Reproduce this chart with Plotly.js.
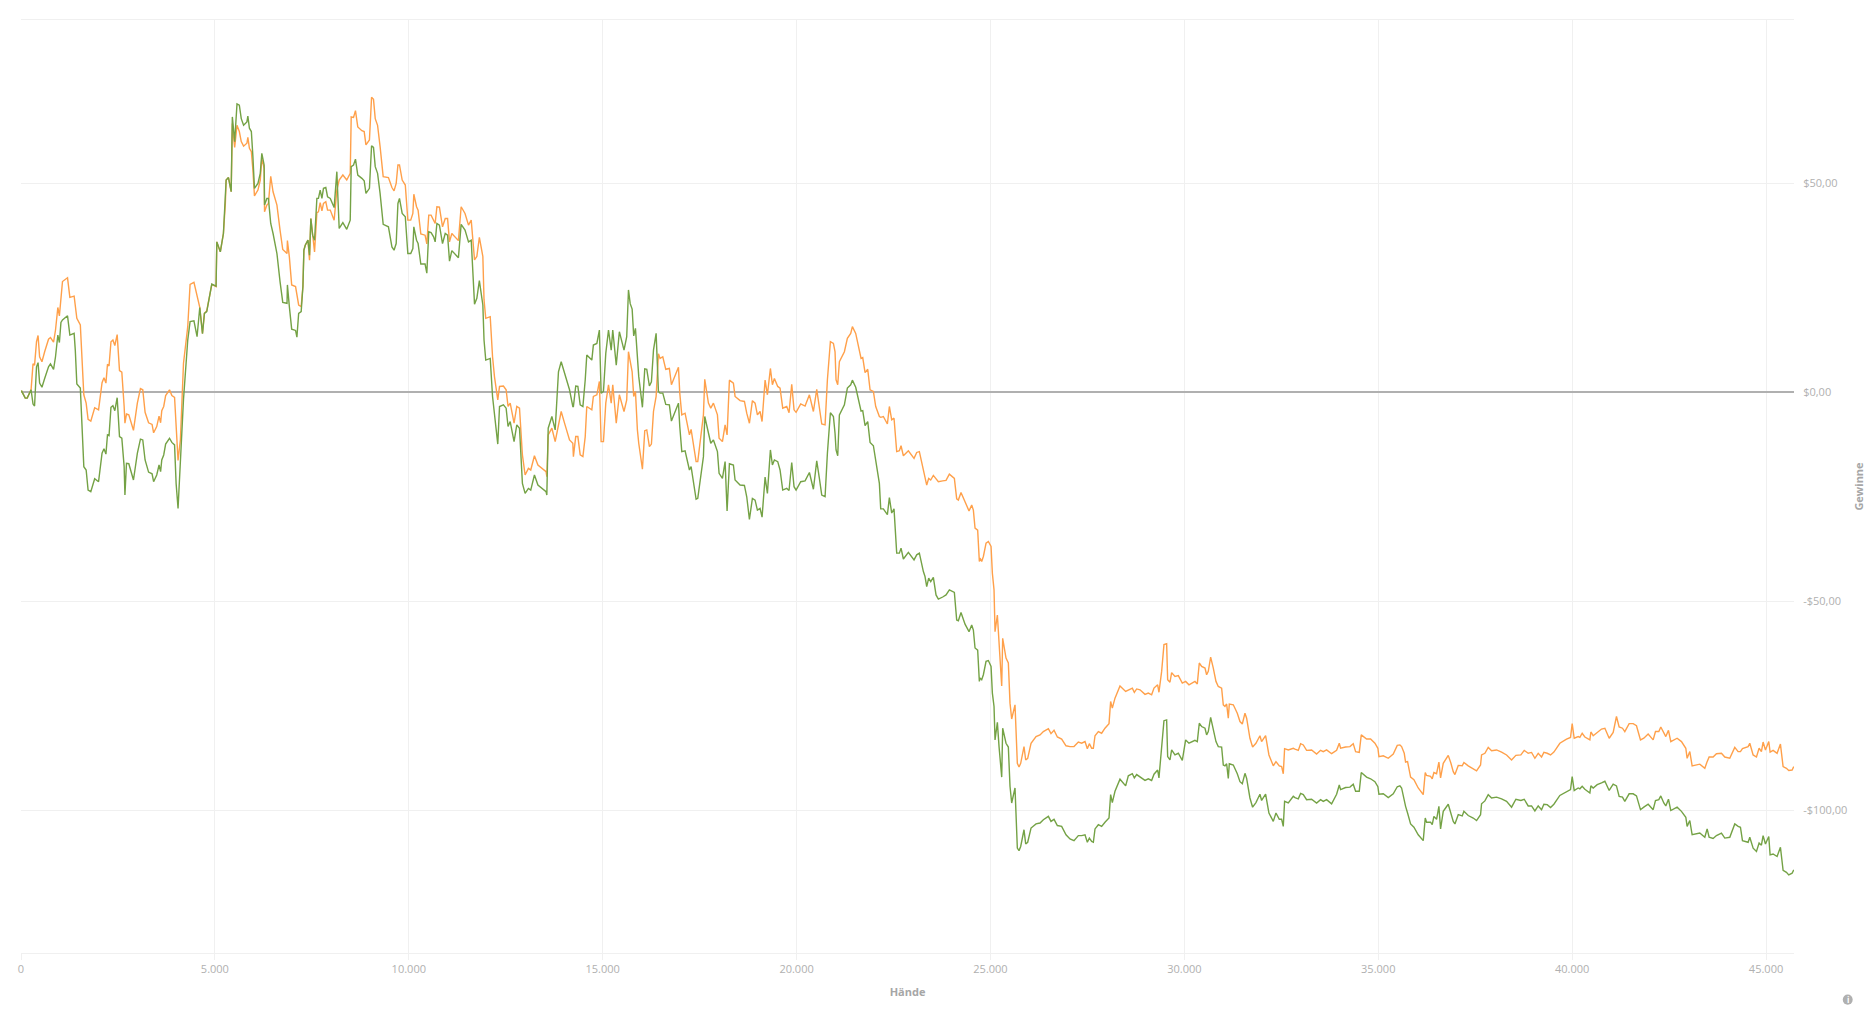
<!DOCTYPE html>
<html><head><meta charset="utf-8">
<script src="https://cdn.plot.ly/plotly-3.0.1.min.js"></script>
<style>html,body{margin:0;padding:0;background:#fff;overflow:hidden}#c{width:1874px;height:1010px}</style>
</head><body><div id="c"></div>
<script>
const hands = [
10,110,160,260,310,350,400,440,480,540,610,710,760,840,890,950,990,1030,1070,1200,1260,1370,1400,1440,1530,1570,1620,1680,1730,1800,1900,2000,2090,2140,2190,2230,2270,2320,2370,2420,2480,2540,2600,2660,2680,2720,2780,2900,3000,3080,3140,3200,3290,3380,3420,3500,3560,3600,3630,3680,3730,3830,3890,3960,4000,4050,4110,4190,4300,4360,4460,4540,4610,4680,4730,4790,4920,5030,
5050,5140,5220,5270,5290,5350,5420,5450,5510,5570,5630,5680,5740,5825,5850,5890,5940,5980,6020,6110,6170,6210,6270,6280,6340,6380,6440,6500,6600,6680,6750,6860,6870,6920,6980,7080,7115,7160,7225,7270,7295,7330,7400,7440,7475,7520,7570,7630,7670,7715,7760,7800,7860,7905,7975,8075,8145,8205,8300,8400,8490,8515,8575,8625,8685,8790,8850,8895,8985,9040,9090,9135,9195,9260,9340,9475,9565,9620,9675,9720,9760,9830,9910,9975,10050,10105,10130,10200,10240,10310,10420,10465,10515,10575,
10640,10680,10725,10790,10870,10940,11000,11050,11110,11280,11350,11450,11540,11610,11695,11755,11820,11910,11940,11985,12100,12160,12210,12295,12340,12440,12510,12560,12615,12715,12785,12855,12930,13000,13085,13145,13240,13330,13540,13560,13595,13690,13775,13860,13930,14030,14145,14230,14245,14305,14360,14420,14490,14550,14590,14720,14760,14850,14915,14960,15020,15080,15150,15220,15260,15350,15430,15550,15620,15665,
15710,15760,15800,15845,15895,15930,16025,16085,16137,16205,16257,16310,16378,16438,16480,16550,16627,16720,16773,16954,16988,17040,17125,17237,17280,17409,17452,17512,17598,17632,17727,17787,17856,17959,18002,18088,18157,18208,18268,18371,18414,18543,18655,18715,18784,18861,18930,18990,19059,19110,19188,19248,19325,19377,19428,19514,19574,19643,19746,19806,19875,19935,19987,20107,20219,20331,20434,20520,20588,20649,20735,
20795,20872,20950,20992,21018,21061,21104,21233,21310,21396,21439,21525,21663,21706,21766,21835,21895,21981,22041,22135,22170,22238,22342,22393,22453,22513,22582,22651,22694,22754,22883,23029,23098,23166,23270,23312,23356,23407,23459,23527,23596,23656,23768,23854,23940,24069,24129,24172,24240,24344,24447,24516,24559,24602,24670,24713,
24731,24774,24817,24886,24946,25015,25049,25092,25118,25178,25221,25290,25315,25401,25461,25504,25547,25633,25693,25736,25779,25865,25908,25960,26046,26175,26278,26364,26493,26561,26639,26725,26836,26948,27051,27154,27266,27352,27438,27498,27550,27610,27653,27696,27782,27867,27953,28057,28099,28142,28211,28340,28486,28555,28658,28710,28770,28856,28985,29070,29156,29217,29311,29345,29414,29474,29543,29569,29629,29672,29758,29844,29947,30033,30119,30273,30334,30385,
30446,30532,30574,30617,30678,30746,30815,30875,30961,31004,31047,31090,31133,31159,31262,31365,31434,31494,31563,31606,31691,31760,31846,31949,31992,32095,32181,32293,32362,32448,32508,32551,32585,32680,32809,32852,32938,32998,33067,33152,33281,33410,33513,33582,33668,33797,33926,33995,34029,34158,34270,34355,34416,34510,34562,34699,34802,34914,34991,35017,35129,35258,35387,35490,35558,
35602,35670,35705,35756,35834,35920,36031,36160,36212,36246,36349,36392,36435,36504,36564,36607,36676,36805,36874,36934,36977,37063,37166,37209,37320,37449,37535,37638,37664,37750,37836,37922,38051,38180,38309,38438,38549,38678,38764,38867,38953,39039,39125,39211,39271,39357,39443,39529,39683,39855,39958,40001,40053,40156,40199,40259,40328,40457,40483,40543,40646,40758,40844,40955,
41058,41143,41212,41298,41358,41470,41573,41659,41762,41848,41960,42089,42149,42235,42286,42364,42415,42484,42544,42707,42819,42931,42965,43034,43094,43292,43421,43481,43532,43635,43721,43850,43936,44065,44194,44280,44340,44392,44538,44581,44667,44753,44821,44881,44924,44985,45070,45105,45182,45285,45371,45440,45526,45586,45672,45715
];
const gewinneOrange = [
0.4,-1.4,-1.4,0.6,6.8,6.5,12.1,13.6,8.5,7.3,9.7,12.7,13.1,12.0,14.9,20.3,18.3,23.7,26.5,27.4,22.7,23.0,20.5,17.7,16.1,7.7,-0.6,-2.6,-6.5,-6.9,-3.7,-4.2,2.3,3.5,2.2,6.7,6.3,12.1,12.5,11.2,13.8,5.2,4.8,-3.4,-7.4,-5.2,-5.4,-9.1,-2.6,0.9,0.6,-4.8,-7.3,-7.7,-9.7,-8.2,-5.7,-7.3,-4.4,-3.4,-0.8,0.6,-0.8,-1.2,-7.4,-16.3,-11.4,6.9,15.7,25.8,26.3,22.9,20.3,14.1,18.9,19.5,25.8,25.3,
36.0,33.6,38.0,45.2,50.8,51.4,48.0,64.3,58.6,63.9,62.4,60.0,58.9,59.6,61.0,58.4,57.6,53.2,47.0,48.4,50.8,56.0,53.6,43.2,44.8,45.2,51.7,48.0,44.8,38.8,34.2,33.2,36.3,32.4,25.7,25.3,22.9,20.9,20.5,25.3,34.0,35.2,36.4,31.6,41.6,37.2,33.6,43.0,43.2,45.4,43.4,45.2,45.6,43.6,43.6,41.2,48.4,50.8,52.0,50.8,52.4,65.9,65.8,67.4,63.5,62.6,62.4,59.2,60.4,70.6,70.1,65.5,63.9,58.8,51.6,51.4,49.0,48.2,50.0,54.4,54.4,50.8,49.6,41.2,41.2,42.8,47.4,44.4,43.6,37.9,37.6,35.5,42.4,42.4,
41.2,40.4,44.4,44.3,39.6,41.6,41.6,36.0,38.0,36.3,44.4,42.8,40.0,41.2,31.7,32.5,37.1,32.5,22.1,17.7,18.1,8.5,3.7,-1.8,1.4,1.5,0.6,-3.4,-2.6,-7.4,-3.4,-3.8,-15.0,-19.8,-18.2,-18.6,-15.2,-17.4,-19.0,-20.2,-10.2,-8.6,-11.8,-7.4,-4.6,-7.8,-11.4,-12.2,-15.4,-10.6,-10.6,-15.0,-15.4,-10.6,-3.4,-4.2,-1.0,-0.6,2.6,-11.8,-11.8,-2.6,1.8,-2.6,1.8,-7.4,-0.6,-4.6,-1.8,9.7,
7.5,4.9,-1.0,0.2,-9.0,-12.2,-18.4,-9.2,-9.0,-13.0,-12.4,-4.6,-1.0,9.2,8.1,8.5,5.5,5.7,1.8,6.0,-0.2,-5.4,-5.0,-10.2,-8.9,-16.6,-16.6,-12.2,-5.4,3.1,-2.6,-3.8,-2.6,-5.4,-11.0,-11.8,-7.8,-10.2,2.9,2.2,-1.0,-2.0,-2.2,-5.0,-7.4,-2.0,-2.6,-5.4,-4.6,-7.0,2.9,-0.6,5.7,1.8,3.3,1.4,1.0,-3.8,-3.4,-4.9,1.9,-4.2,-4.8,-2.8,-3.3,-0.6,-4.6,0.7,-3.4,-7.6,-7.8,
3.0,12.1,11.7,9.7,3.0,1.8,7.3,9.7,12.9,14.1,15.7,14.1,8.1,8.3,4.7,5.5,0.6,0.2,-3.4,-5.8,-6.0,-5.8,-7.6,-3.4,-6.6,-6.2,-14.2,-14.0,-12.8,-15.2,-14.0,-15.8,-14.4,-14.2,-18.6,-20.2,-22.2,-20.6,-21.0,-19.9,-20.7,-21.4,-21.2,-21.1,-19.6,-20.6,-25.5,-25.8,-24.0,-26.4,-28.4,-27.0,-28.2,-32.5,-33.0,-40.5,
-39.7,-40.5,-39.3,-36.1,-35.7,-36.9,-43.3,-47.3,-57.3,-53.3,-59.3,-70.3,-58.9,-63.6,-64.8,-74.4,-78.2,-74.8,-88.8,-89.7,-88.8,-84.8,-88.0,-87.6,-84.0,-82.4,-82.0,-81.2,-80.5,-81.7,-80.9,-82.5,-83.0,-84.6,-84.8,-84.8,-83.7,-84.0,-83.6,-85.3,-84.1,-85.2,-85.2,-82.2,-81.2,-81.6,-80.4,-79.3,-74.0,-75.6,-73.2,-70.3,-71.6,-71.2,-70.8,-71.8,-71.0,-71.2,-72.3,-72.0,-72.4,-70.8,-70.0,-71.8,-66.8,-60.4,-60.2,-68.8,-69.4,-67.1,-68.0,-67.8,-69.6,-69.2,-70.0,-69.2,-69.8,-64.8,
-65.6,-66.0,-67.6,-66.8,-63.4,-66.0,-69.2,-70.4,-70.8,-74.8,-75.2,-74.6,-78.0,-74.6,-74.8,-76.8,-78.8,-79.4,-76.8,-78.0,-82.8,-84.9,-84.0,-82.2,-83.6,-82.2,-86.8,-89.4,-88.4,-89.4,-89.6,-91.3,-85.3,-85.6,-85.2,-85.4,-85.7,-84.1,-84.4,-85.7,-85.6,-86.6,-85.7,-86.0,-85.6,-86.5,-85.7,-84.0,-85.2,-84.9,-84.8,-84.1,-86.0,-86.2,-82.0,-83.0,-83.0,-84.0,-85.2,-87.2,-87.0,-87.6,-86.6,-84.5,-84.4,
-84.8,-86.4,-88.5,-88.4,-92.1,-92.7,-94.7,-96.3,-91.0,-91.7,-91.9,-92.5,-91.0,-91.3,-88.5,-92.3,-88.8,-86.9,-88.8,-90.8,-91.5,-89.3,-89.4,-88.6,-89.4,-90.1,-90.6,-89.2,-86.8,-86.4,-85.0,-85.8,-85.6,-86.1,-86.8,-88.0,-86.9,-86.8,-85.7,-86.4,-86.2,-87.6,-86.4,-87.3,-86.2,-86.4,-86.8,-86.1,-84.0,-83.0,-82.6,-79.3,-82.8,-82.4,-82.6,-81.6,-82.5,-83.2,-81.3,-82.2,-81.4,-80.6,-80.4,-82.8,
-81.4,-77.6,-80.1,-80.4,-81.2,-79.3,-79.3,-79.8,-83.2,-82.8,-81.8,-83.2,-81.2,-81.2,-80.1,-81.6,-82.4,-80.9,-83.6,-82.8,-83.6,-85.2,-87.6,-86.0,-89.4,-89.0,-90.0,-88.4,-87.3,-87.3,-86.5,-86.4,-87.3,-87.6,-85.0,-86.0,-86.0,-85.3,-84.8,-84.0,-86.8,-87.3,-85.2,-86.0,-83.7,-85.6,-83.6,-86.1,-85.7,-86.4,-84.2,-89.6,-90.0,-90.5,-90.4,-89.6
];
const gewinneGreen = [
0.4,-1.4,-1.4,0.6,-2.8,-3.3,6.1,7.1,2.2,1.2,3.3,6.1,6.8,5.5,8.5,13.7,11.9,16.7,17.3,18.3,13.7,14.1,10.1,2.0,1.0,-6.6,-17.8,-18.6,-23.4,-23.8,-20.7,-21.4,-14.6,-13.5,-14.8,-10.2,-10.4,-3.6,-3.2,-4.4,-1.3,-10.6,-11.0,-17.8,-24.6,-17.0,-17.1,-21.0,-14.6,-11.2,-11.4,-16.2,-19.1,-19.5,-21.4,-19.8,-17.4,-19.0,-16.2,-15.0,-12.4,-11.0,-12.0,-12.6,-21.8,-27.8,-17.0,-1.8,12.5,16.9,17.1,13.3,20.3,14.0,18.9,19.3,25.9,25.4,
36.0,33.6,38.0,45.2,50.8,51.4,48.0,65.9,60.0,69.0,68.7,65.5,63.9,64.7,66.1,63.2,62.4,56.4,48.8,50.0,52.4,57.2,54.4,44.8,46.4,46.4,40.4,38.0,33.2,26.5,21.5,21.3,25.7,20.5,15.1,14.8,13.2,18.9,19.3,25.3,34.0,35.2,36.4,32.8,41.6,37.6,36.4,46.4,46.4,48.4,46.4,48.8,49.0,46.8,46.4,44.2,52.8,39.2,40.6,39.0,41.2,54.0,54.4,55.8,52.0,51.2,50.6,47.6,48.8,59.0,58.6,54.0,52.4,47.6,40.2,39.6,34.8,34.0,35.6,45.2,46.4,42.8,42.0,33.2,33.2,34.4,39.6,36.4,35.6,30.7,30.7,28.5,38.4,38.2,
37.2,36.0,40.4,40.0,35.6,38.0,37.6,31.4,33.9,32.2,40.2,38.8,36.0,36.4,21.1,22.5,26.7,20.9,12.5,7.7,8.1,-1.0,-5.8,-12.4,-3.4,-3.0,-3.8,-8.2,-7.0,-11.8,-7.8,-8.6,-21.8,-24.2,-23.0,-23.4,-19.8,-22.2,-23.8,-24.6,-8.6,-5.8,-9.0,4.9,7.3,4.1,0.6,-3.4,-3.4,1.5,1.4,-3.0,-3.4,3.0,8.9,7.7,11.3,11.7,14.9,-0.2,0.2,9.3,14.9,10.1,14.9,6.5,14.5,10.1,13.3,24.5,
21.2,19.9,13.5,15.3,7.7,3.8,-3.6,5.6,5.5,1.5,2.5,10.1,14.1,0.2,-0.2,-0.2,-2.9,-3.0,-6.9,-2.6,-8.2,-14.2,-14.0,-18.6,-17.8,-25.6,-25.4,-21.0,-15.4,-5.8,-10.2,-12.2,-11.4,-14.2,-19.4,-20.6,-16.6,-28.4,-17.1,-17.4,-21.0,-22.2,-22.3,-25.0,-30.4,-25.4,-25.8,-28.2,-27.8,-29.9,-20.3,-24.2,-13.8,-17.4,-16.2,-16.6,-18.6,-23.4,-23.0,-23.5,-16.8,-22.6,-23.4,-21.4,-21.2,-19.2,-23.2,-16.4,-20.6,-24.6,-25.0,
-14.6,-4.9,-5.8,-9.8,-13.8,-15.2,-5.4,-3.0,1.0,1.8,2.9,1.2,-4.5,-4.4,-8.0,-7.0,-12.0,-12.8,-16.2,-21.8,-27.9,-27.9,-29.3,-25.2,-28.9,-27.9,-38.5,-38.5,-37.3,-39.9,-38.3,-40.1,-38.9,-38.5,-42.9,-44.1,-46.5,-44.5,-45.3,-44.3,-48.5,-49.5,-49.0,-48.5,-47.3,-47.9,-54.5,-54.7,-52.7,-55.5,-57.3,-55.7,-56.9,-61.2,-61.7,-69.2,
-68.4,-68.8,-67.6,-64.4,-64.2,-65.6,-72.0,-75.2,-83.2,-79.0,-84.8,-92.1,-80.4,-84.0,-84.9,-94.3,-98.3,-94.7,-109.1,-109.7,-108.7,-104.7,-108.1,-107.7,-104.3,-103.3,-103.1,-102.3,-101.5,-102.7,-102.2,-103.7,-103.9,-105.9,-106.9,-107.3,-106.1,-106.1,-105.9,-107.7,-106.7,-107.5,-107.7,-104.5,-103.5,-103.9,-102.9,-101.9,-96.3,-98.2,-95.5,-92.6,-94.2,-91.8,-91.3,-92.3,-91.5,-92.1,-92.9,-92.5,-92.9,-91.4,-90.4,-92.3,-85.9,-78.6,-78.4,-87.2,-88.0,-85.6,-86.8,-86.4,-88.1,-83.2,-84.0,-83.3,-83.6,-79.2,
-80.0,-80.4,-82.0,-81.2,-77.8,-80.6,-83.6,-84.8,-84.9,-89.2,-89.4,-88.9,-92.4,-88.9,-89.2,-91.3,-93.2,-93.7,-91.2,-92.4,-97.1,-99.3,-98.2,-96.2,-97.7,-96.2,-100.7,-102.7,-100.7,-102.2,-102.2,-103.9,-97.9,-98.3,-96.7,-97.0,-97.3,-96.0,-96.3,-97.5,-97.4,-98.3,-97.5,-97.9,-97.5,-98.5,-96.2,-94.0,-95.1,-94.6,-94.5,-93.8,-95.5,-95.5,-91.0,-92.1,-92.5,-93.2,-94.4,-96.2,-96.1,-97.0,-96.1,-94.4,-94.2,
-94.7,-97.9,-99.1,-100.7,-103.3,-104.1,-105.9,-107.3,-101.9,-102.9,-102.9,-103.5,-101.5,-102.2,-99.1,-104.5,-100.3,-98.6,-101.1,-102.7,-103.3,-101.1,-101.4,-100.3,-101.3,-101.9,-102.5,-101.1,-98.5,-97.8,-96.3,-97.1,-96.9,-97.3,-97.9,-99.3,-97.4,-97.7,-97.4,-99.0,-99.0,-100.2,-99.0,-99.9,-98.6,-98.7,-99.4,-98.6,-96.5,-95.7,-95.1,-92.0,-95.3,-94.7,-94.9,-94.3,-95.0,-95.9,-94.2,-94.7,-93.9,-93.5,-93.1,-95.3,
-93.8,-94.2,-96.7,-96.9,-97.9,-96.1,-96.1,-96.6,-99.9,-99.3,-98.6,-99.9,-97.7,-97.5,-96.6,-98.3,-99.0,-97.4,-100.1,-99.3,-100.3,-101.7,-103.9,-102.5,-105.9,-105.5,-106.5,-104.5,-106.5,-106.8,-106.1,-105.5,-106.7,-106.5,-103.3,-103.9,-104.1,-107.3,-107.7,-106.5,-109.1,-109.9,-107.9,-108.4,-106.1,-108.1,-106.3,-110.7,-110.5,-111.1,-108.9,-114.4,-114.9,-115.5,-115.1,-114.3
];
const xTickVals = [0,5000,10000,15000,20000,25000,30000,35000,40000,45000];
const xTickText = ["0","5.000","10.000","15.000","20.000","25.000","30.000","35.000","40.000","45.000"];
const yTickVals = [50,0,-50,-100];
const yTickText = ["$50,00","$0,00","-$50,00","-$100,00"];

if (hands.length !== gewinneOrange.length || hands.length !== gewinneGreen.length)
  throw new Error("len " + hands.length + " " + gewinneOrange.length + " " + gewinneGreen.length);

const grid = "#f0f0f0", txt = "#b0b0b0", font = '"Open Sans", sans-serif';
Plotly.newPlot("c", [
  {x: hands, y: gewinneOrange, mode: "lines", line: {color: "#ffa04a", width: 1.4}, hoverinfo: "x+y", showlegend: false},
  {x: hands, y: gewinneGreen, mode: "lines", line: {color: "#74a245", width: 1.4}, hoverinfo: "x+y", showlegend: false}
], {
  width: 1874, height: 1010,
  margin: {l: 20.7, r: 79.7, t: 20, b: 56.7, pad: 0},
  paper_bgcolor: "#fff", plot_bgcolor: "#fff",
  font: {family: font, color: txt, size: 11},
  showlegend: false,
  xaxis: {
    range: [0, 45721], tickmode: "array", tickvals: xTickVals, ticktext: xTickText,
    showgrid: true, gridcolor: grid, gridwidth: 1, zeroline: false,
    showline: true, mirror: true, linecolor: grid, linewidth: 1,
    ticks: "outside", ticklen: 6, tickcolor: grid,
    tickfont: {size: 11, color: txt, family: font},
    title: {text: "<b>Hände</b>", font: {size: 11, color: "#a6a6a6", family: font}, standoff: 13}
  },
  yaxis: {
    side: "right", range: [-134.2, 89.1], tickmode: "array", tickvals: yTickVals, ticktext: yTickText,
    showgrid: true, gridcolor: grid, gridwidth: 1,
    zeroline: true, zerolinecolor: "#b0b0b0", zerolinewidth: 1.5,
    showline: false, ticks: "outside", ticklen: 6, tickcolor: "rgba(0,0,0,0)",
    tickfont: {size: 11, color: txt, family: font},
    title: {text: "<b>Gewinne</b>", font: {size: 11, color: "#a6a6a6", family: font}, standoff: 8}
  },
  shapes: [{type: "circle", xref: "paper", yref: "paper", x0: 1.0275, x1: 1.0331, y0: -0.0446, y1: -0.0554, fillcolor: "#b0b0b0", line: {width: 0}}],
  annotations: [{xref: "paper", yref: "paper", x: 1.0303, y: -0.05, text: "<b>i</b>", showarrow: false, font: {size: 8, color: "#fff", family: font}, xanchor: "center", yanchor: "middle", borderpad: 0}]
}, {displayModeBar: false, responsive: false});
</script></body></html>
